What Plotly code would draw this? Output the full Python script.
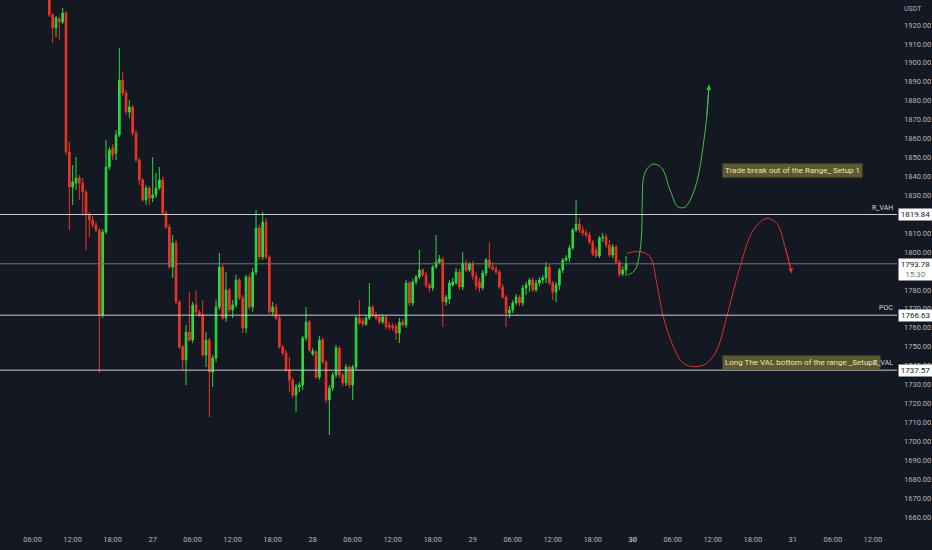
import pandas as pd
import plotly.graph_objects as go

# 30 min candles, first one at 26 08:30
start = "2023-05-26 08:30"

opens = [1938.5, 1925.3, 1918.4, 1923.2, 1921.6, 1926.3, 1852.9, 1834.4, 1836.5, 1839.1,
         1836.5, 1831.7, 1819.6, 1816.9, 1814.3, 1811.6, 1766.7, 1810.6, 1844.9, 1855.0,
         1852.3, 1861.9, 1890.9, 1884.0, 1874.0, 1876.6, 1862.9, 1848.6, 1838.1, 1827.5,
         1833.8, 1828.6, 1830.1, 1833.8, 1838.1, 1820.6, 1813.2, 1792.1, 1804.8, 1773.6,
         1749.8, 1742.9, 1757.7, 1753.5, 1772.0, 1768.3, 1766.7, 1745.6, 1753.5, 1736.6,
         1744.0, 1770.9, 1792.1, 1765.1, 1779.9, 1769.4, 1772.0, 1785.2, 1775.7, 1759.9,
         1786.8, 1770.9, 1789.4, 1812.7, 1797.4, 1815.9, 1797.4, 1768.3, 1770.9, 1765.1,
         1749.8, 1746.6, 1737.6, 1732.4, 1724.4, 1728.7, 1729.7, 1754.6, 1763.0, 1746.1,
         1747.2, 1733.9, 1753.5, 1741.9, 1721.8, 1728.1, 1735.0, 1749.3, 1735.0, 1730.8,
         1739.2, 1729.7, 1739.2, 1765.1, 1763.5, 1761.9, 1765.1, 1770.9, 1766.7, 1765.7,
         1763.0, 1765.7, 1761.4, 1760.9, 1760.9, 1757.2, 1763.0, 1761.4, 1783.6, 1773.1,
         1784.2, 1786.8, 1790.5, 1787.9, 1782.6, 1781.0, 1792.1, 1794.7, 1796.3, 1773.6,
         1775.2, 1782.6, 1783.6, 1789.4, 1781.5, 1794.2, 1790.5, 1793.7, 1787.3, 1784.2,
         1781.0, 1788.9, 1795.8, 1792.1, 1791.0, 1789.4, 1781.5, 1776.2, 1767.8, 1769.4,
         1773.1, 1776.2, 1773.1, 1781.0, 1782.6, 1785.2, 1779.9, 1783.6, 1785.2, 1786.3,
         1792.1, 1783.6, 1778.9, 1782.6, 1790.5, 1795.8, 1796.8, 1802.1, 1811.6, 1814.8,
         1811.6, 1810.1, 1809.0, 1805.3, 1801.1, 1797.9, 1807.4, 1807.9, 1803.7, 1798.4,
         1802.7, 1794.7, 1788.4, 1790.5]
highs = [1941.1, 1926.3, 1924.7, 1924.2, 1929.0, 1927.4, 1858.2, 1846.0, 1850.2, 1840.7,
         1839.1, 1832.8, 1821.2, 1819.0, 1815.9, 1812.7, 1812.2, 1859.2, 1855.5, 1857.1,
         1864.5, 1907.8, 1895.1, 1885.6, 1880.3, 1877.7, 1864.5, 1849.7, 1839.1, 1835.4,
         1834.9, 1850.2, 1841.8, 1844.9, 1839.7, 1821.7, 1814.8, 1809.0, 1806.4, 1774.6,
         1750.9, 1761.4, 1778.9, 1773.6, 1779.9, 1769.4, 1774.6, 1757.7, 1754.6, 1745.6,
         1774.6, 1799.5, 1793.7, 1789.4, 1781.0, 1774.6, 1787.9, 1786.3, 1777.3, 1787.9,
         1788.4, 1791.6, 1822.2, 1814.3, 1821.2, 1818.0, 1798.4, 1773.6, 1772.5, 1766.7,
         1750.9, 1748.2, 1744.5, 1733.4, 1730.3, 1731.3, 1755.6, 1770.9, 1764.1, 1749.3,
         1748.2, 1755.6, 1754.6, 1742.9, 1729.7, 1736.6, 1750.9, 1750.3, 1736.1, 1740.8,
         1740.3, 1740.3, 1766.2, 1774.6, 1765.1, 1766.2, 1783.6, 1772.0, 1768.3, 1767.3,
         1767.3, 1766.7, 1763.0, 1762.5, 1761.9, 1765.1, 1764.6, 1785.2, 1784.7, 1785.8,
         1787.9, 1801.1, 1791.6, 1789.4, 1783.6, 1793.1, 1809.0, 1798.4, 1797.4, 1777.3,
         1785.2, 1786.3, 1791.6, 1791.0, 1800.0, 1795.8, 1794.7, 1795.3, 1789.4, 1786.3,
         1790.5, 1796.8, 1805.3, 1794.7, 1792.6, 1790.5, 1783.1, 1777.3, 1771.5, 1774.6,
         1777.8, 1777.3, 1782.6, 1784.2, 1786.3, 1786.8, 1785.2, 1786.8, 1787.9, 1794.7,
         1793.7, 1784.7, 1784.2, 1791.6, 1796.8, 1798.4, 1803.7, 1812.7, 1827.5, 1818.0,
         1813.8, 1811.6, 1810.6, 1806.4, 1802.7, 1808.5, 1810.1, 1809.5, 1806.4, 1804.2,
         1803.7, 1795.8, 1792.6, 1797.9]
lows = [1924.2, 1910.5, 1913.6, 1912.1, 1920.5, 1851.3, 1811.6, 1824.9, 1832.8, 1827.5,
        1819.6, 1801.1, 1807.9, 1812.7, 1810.6, 1736.1, 1765.1, 1809.5, 1843.4, 1848.6,
        1848.6, 1860.8, 1882.5, 1872.4, 1870.8, 1861.3, 1847.6, 1835.4, 1826.4, 1824.9,
        1824.9, 1826.4, 1828.6, 1832.8, 1819.6, 1812.2, 1791.0, 1786.3, 1772.5, 1748.8,
        1737.6, 1729.7, 1752.5, 1751.9, 1767.3, 1765.7, 1744.5, 1739.2, 1712.8, 1728.7,
        1741.9, 1769.4, 1764.1, 1763.0, 1767.8, 1765.1, 1770.4, 1774.6, 1757.2, 1757.2,
        1769.4, 1768.3, 1787.9, 1795.8, 1795.8, 1796.3, 1767.3, 1766.2, 1764.1, 1748.8,
        1745.1, 1736.6, 1726.0, 1722.9, 1715.5, 1726.0, 1727.1, 1753.0, 1747.2, 1745.1,
        1732.9, 1732.4, 1740.8, 1720.2, 1703.3, 1726.5, 1733.4, 1733.4, 1729.2, 1729.2,
        1728.1, 1721.8, 1737.6, 1761.4, 1760.4, 1760.9, 1764.1, 1765.7, 1764.1, 1761.9,
        1761.9, 1759.3, 1758.8, 1758.3, 1753.5, 1751.9, 1760.4, 1759.9, 1771.5, 1771.5,
        1782.6, 1785.8, 1786.8, 1781.0, 1778.9, 1779.4, 1791.0, 1793.7, 1760.4, 1771.5,
        1772.5, 1781.5, 1782.6, 1779.9, 1779.9, 1789.4, 1789.4, 1785.2, 1779.9, 1778.9,
        1779.9, 1787.3, 1791.0, 1790.0, 1788.4, 1780.5, 1775.2, 1760.4, 1765.1, 1767.8,
        1772.0, 1771.5, 1771.5, 1777.3, 1778.9, 1778.9, 1778.9, 1782.0, 1783.1, 1783.6,
        1782.6, 1774.6, 1773.6, 1779.9, 1788.9, 1794.7, 1794.7, 1801.1, 1810.6, 1810.1,
        1808.5, 1807.4, 1804.2, 1797.9, 1796.8, 1796.8, 1805.3, 1802.1, 1797.4, 1796.8,
        1793.7, 1786.8, 1787.3, 1787.3]
closes = [1925.3, 1918.4, 1923.7, 1921.6, 1926.3, 1852.9, 1834.4, 1837.0, 1839.1, 1836.5,
          1831.7, 1819.6, 1816.9, 1814.3, 1811.6, 1766.7, 1810.6, 1844.9, 1853.9, 1851.3,
          1861.9, 1890.9, 1884.0, 1874.0, 1876.6, 1862.9, 1848.6, 1838.1, 1827.5, 1833.8,
          1828.6, 1830.1, 1833.8, 1838.1, 1820.6, 1813.2, 1792.1, 1804.8, 1773.6, 1749.8,
          1742.9, 1757.7, 1753.5, 1772.0, 1768.3, 1766.7, 1745.6, 1753.5, 1736.6, 1744.0,
          1770.9, 1792.1, 1765.1, 1779.9, 1769.4, 1772.0, 1785.2, 1775.7, 1759.9, 1786.8,
          1770.9, 1789.4, 1812.7, 1797.4, 1815.9, 1797.4, 1768.3, 1770.9, 1765.1, 1749.8,
          1746.6, 1737.6, 1732.4, 1724.4, 1728.7, 1729.7, 1754.6, 1763.0, 1748.2, 1747.7,
          1733.9, 1753.5, 1741.9, 1721.8, 1728.1, 1735.0, 1749.3, 1735.0, 1730.8, 1739.2,
          1729.7, 1739.2, 1765.1, 1762.5, 1761.9, 1765.1, 1770.9, 1766.7, 1765.1, 1763.0,
          1765.7, 1760.4, 1760.4, 1759.9, 1757.2, 1763.0, 1761.4, 1783.6, 1773.1, 1784.2,
          1786.8, 1790.5, 1787.9, 1782.6, 1781.0, 1792.1, 1794.7, 1796.3, 1773.6, 1776.2,
          1783.6, 1784.2, 1789.4, 1781.5, 1794.2, 1790.5, 1793.7, 1787.3, 1782.0, 1781.0,
          1788.9, 1795.8, 1792.1, 1791.0, 1789.4, 1781.5, 1776.2, 1767.8, 1769.4, 1773.1,
          1776.2, 1773.1, 1781.0, 1782.6, 1785.2, 1779.9, 1783.6, 1785.2, 1786.3, 1792.1,
          1783.6, 1778.9, 1782.6, 1790.5, 1795.8, 1796.8, 1802.1, 1811.6, 1814.8, 1811.6,
          1810.1, 1809.0, 1805.3, 1799.0, 1797.9, 1807.4, 1807.9, 1803.7, 1798.4, 1802.7,
          1794.7, 1788.4, 1790.5, 1793.78]

# drawn scenarios, hours after 26 00:00
green_hours = [95.34, 96.34, 96.94, 97.32, 97.43, 97.61, 98.14, 99.04, 100.35, 101.59,
               102.79, 103.84, 104.85, 105.79, 106.54, 107.1, 107.44]
green_prices = [1787.9, 1790.5, 1797.4, 1809.0, 1827.5, 1839.1, 1843.9, 1846.5, 1844.4, 1832.8,
                1823.8, 1823.8, 1829.1, 1839.7, 1855.5, 1871.4, 1888.3]
red_hours = [95.1, 97.1, 98.6, 99.6, 100.58, 102.09, 103.59, 105.34, 107.1, 108.6,
             110.1, 112.09, 114.09, 116.1, 117.6, 118.84, 119.85]
red_prices = [1799.3, 1800.2, 1797.5, 1783.5, 1765.8, 1750.0, 1741.2, 1739.4, 1741.2, 1748.2,
              1765.8, 1792.2, 1811.6, 1817.8, 1815.2, 1802.8, 1788.8]

levels = {"R_VAH": 1819.84, "POC": 1766.63, "R_VAL": 1737.57}
last_price = 1793.78
countdown = "15:30"

tick_times = ["2023-05-26 06:00", "2023-05-26 12:00", "2023-05-26 18:00", "2023-05-27 00:00",
              "2023-05-27 06:00", "2023-05-27 12:00", "2023-05-27 18:00", "2023-05-28 00:00",
              "2023-05-28 06:00", "2023-05-28 12:00", "2023-05-28 18:00", "2023-05-29 00:00",
              "2023-05-29 06:00", "2023-05-29 12:00", "2023-05-29 18:00", "2023-05-30 00:00",
              "2023-05-30 06:00", "2023-05-30 12:00", "2023-05-30 18:00", "2023-05-31 00:00",
              "2023-05-31 06:00", "2023-05-31 12:00"]
tick_labels = ["06:00", "12:00", "18:00", "27", "06:00", "12:00", "18:00", "28",
               "06:00", "12:00", "18:00", "29", "06:00", "12:00", "18:00", "<b>30</b>",
               "06:00", "12:00", "18:00", "31", "06:00", "12:00"]
price_ticks = list(range(1660, 1930, 10))

bg = "#141823"
axis_txt = "#b2b5be"
t0 = pd.Timestamp("2023-05-26")
times = pd.date_range(start, periods=len(opens), freq="30min")
green_t = t0 + pd.to_timedelta(green_hours, unit="h")
red_t = t0 + pd.to_timedelta(red_hours, unit="h")

fig = go.Figure()
fig.add_trace(go.Candlestick(
    x=times, open=opens, high=highs, low=lows, close=closes,
    increasing=dict(line=dict(color="#2bd93c", width=1), fillcolor="#2bd93c"),
    decreasing=dict(line=dict(color="#ec3525", width=1), fillcolor="#ec3525"),
    whiskerwidth=0, hoverinfo="skip"))
fig.add_trace(go.Scatter(x=green_t, y=green_prices, mode="lines",
                         line=dict(color="#3cc43c", width=1, shape="spline"), hoverinfo="skip"))
fig.add_trace(go.Scatter(x=red_t, y=red_prices, mode="lines",
                         line=dict(color="#d8322a", width=1, shape="spline"), hoverinfo="skip"))

shapes = []
for name, lv in levels.items():
    shapes.append(dict(type="line", xref="paper", x0=0, x1=1, yref="y", y0=lv, y1=lv,
                       line=dict(color="#c9ccd4", width=1)))
shapes.append(dict(type="line", xref="paper", x0=0, x1=1, yref="y", y0=last_price, y1=last_price,
                   line=dict(color="#6f737d", width=1)))

ann = []
# text boxes first, so the level names stay on top of them
ann.append(dict(text="Trade break out of the Range_ Setup 1", xref="paper", x=0.805, xanchor="left",
                yref="y", y=1843.1, showarrow=False, bgcolor="#5c5a2e", borderpad=2,
                font=dict(size=8, color="#e8e4c2")))
ann.append(dict(text="Long The VAL bottom of the range _Setup2", xref="paper", x=0.805, xanchor="left",
                yref="y", y=1741.6, showarrow=False, bgcolor="#5c5a2e", borderpad=2,
                font=dict(size=8, color="#e8e4c2")))
for name, lv in levels.items():
    ann.append(dict(text=name, xref="paper", x=0.998, xanchor="right", yref="y", y=lv,
                    yanchor="bottom", yshift=1, showarrow=False,
                    font=dict(size=7, color="#d1d4dc")))
    ann.append(dict(text=f"{lv:.2f}", xref="paper", x=1, xanchor="left", xshift=1, yref="y", y=lv,
                    showarrow=False, bgcolor="#ffffff", borderpad=1, width=31,
                    font=dict(size=8, color="#131722")))
ann.append(dict(text=f"{last_price:.2f}<br><span style='color:#787b86'>{countdown}</span>",
                xref="paper", x=1, xanchor="left", xshift=1, yref="y", y=last_price,
                yanchor="top", yshift=6, showarrow=False, bgcolor="#ffffff", borderpad=1, width=31,
                font=dict(size=8, color="#131722")))
ann.append(dict(text="USDT", xref="paper", x=1, xanchor="left", xshift=5, yref="paper", y=1,
                yanchor="top", yshift=-3, showarrow=False, font=dict(size=7, color=axis_txt)))
# arrow heads at the end of the drawn paths
ann.append(dict(x=green_t[-1], y=green_prices[-1], ax=green_t[-2], ay=green_prices[-2],
                xref="x", yref="y", axref="x", ayref="y", text="", showarrow=True,
                arrowhead=2, arrowsize=1, arrowwidth=1, arrowcolor="#3cc43c"))
ann.append(dict(x=red_t[-1], y=red_prices[-1], ax=red_t[-2], ay=red_prices[-2],
                xref="x", yref="y", axref="x", ayref="y", text="", showarrow=True,
                arrowhead=2, arrowsize=1, arrowwidth=1, arrowcolor="#d8322a"))

fig.update_layout(
    width=932, height=550, margin=dict(l=0, r=35, t=0, b=20),
    paper_bgcolor=bg, plot_bgcolor=bg, showlegend=False,
    font=dict(family="Roboto", color=axis_txt),
    shapes=shapes, annotations=ann,
    xaxis=dict(type="date", range=["2023-05-26 01:06", "2023-05-31 15:38"],
               rangeslider=dict(visible=False), showgrid=False, zeroline=False, showline=False,
               tickvals=tick_times, ticktext=tick_labels, tickfont=dict(size=7.5, color=axis_txt),
               ticks="", ticklabelstandoff=3),
    yaxis=dict(side="right", range=[1653.1, 1933.2], showgrid=False, zeroline=False,
               showline=False, tickvals=price_ticks, ticktext=[f"{v:.2f}" for v in price_ticks],
               tickfont=dict(size=7.5, color=axis_txt), ticks="", ticklabelstandoff=6),
)

# page margin off so the chart fills the window exactly
fig.write_html("out.html", config={"displayModeBar": False},
               post_script="document.body.style.margin='0';document.body.style.background='#141823';")
